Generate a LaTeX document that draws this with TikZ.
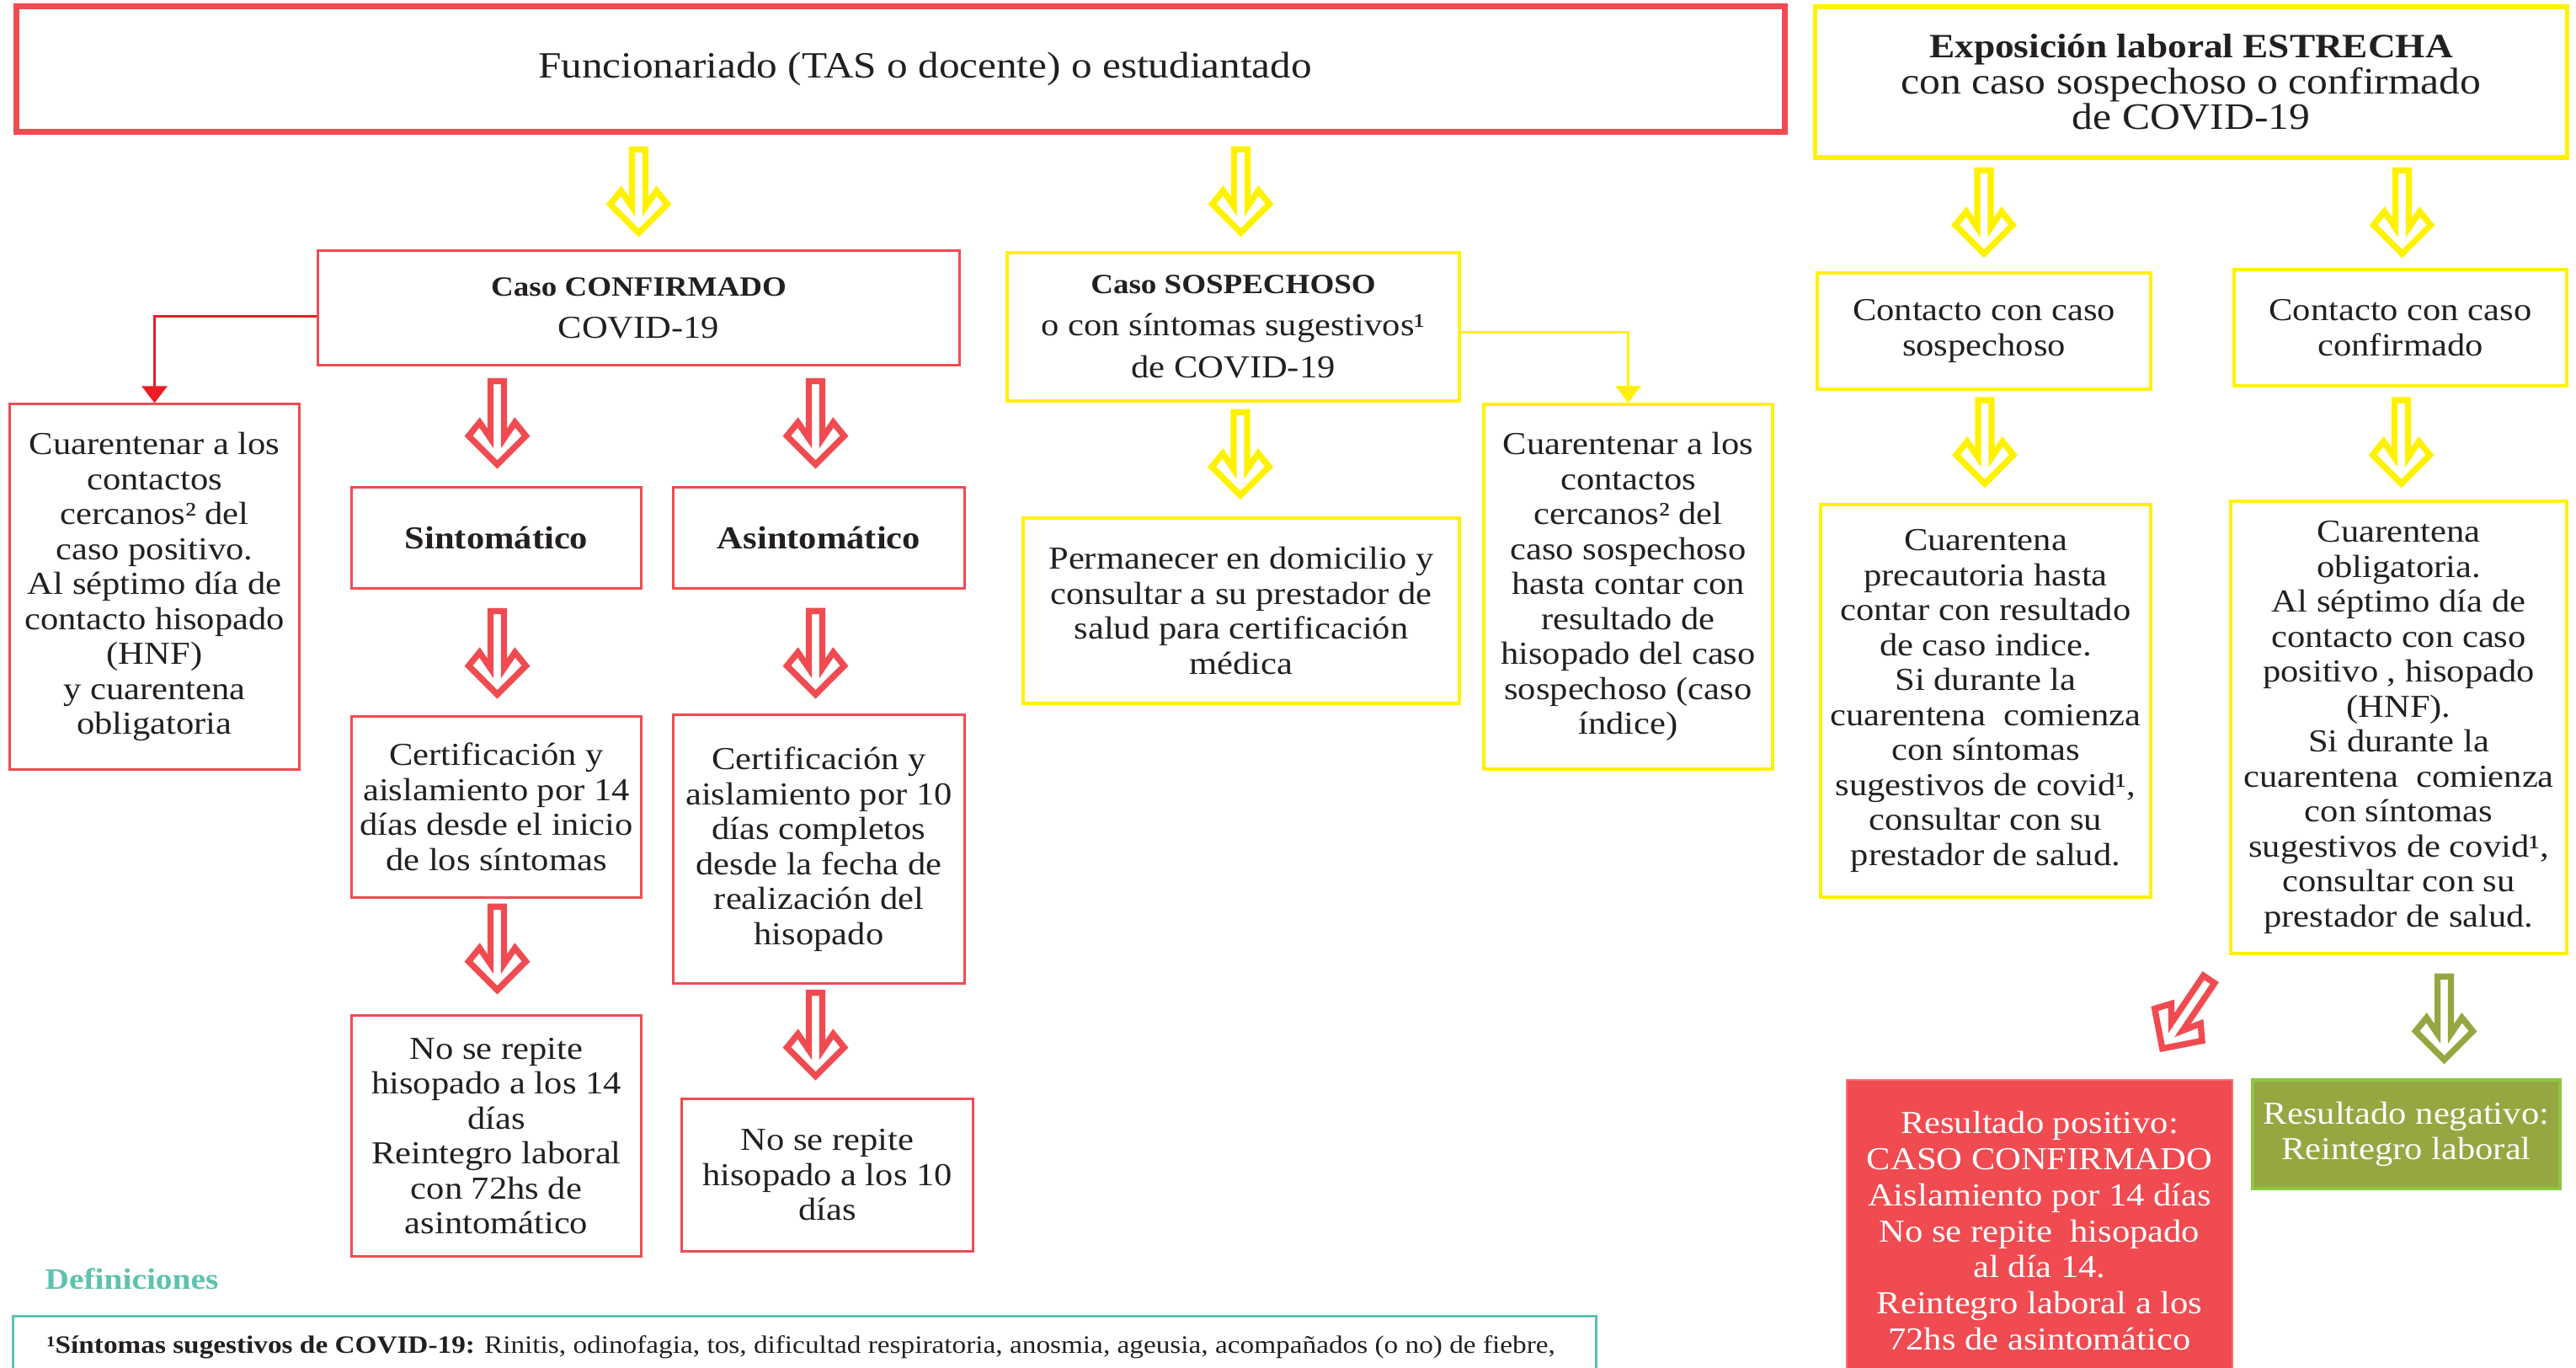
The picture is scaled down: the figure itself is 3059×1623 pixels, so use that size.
\documentclass[tikz,border=0pt]{standalone}
\usepackage{fontspec}
\setmainfont{Liberation Serif}[FakeStretch=1.12]
\usetikzlibrary{arrows.meta,calc}

\definecolor{redc}{HTML}{F04B51}
\definecolor{linkred}{HTML}{ED1C24}
\definecolor{ylw}{HTML}{FFF200}
\definecolor{olive}{HTML}{95A741}
\definecolor{lightgreen}{HTML}{8CC63F}
\definecolor{teal}{HTML}{5EC2AE}
\definecolor{ink}{HTML}{231F20}

\newcommand{\headline}[1]{{\fontsize{9.4}{14.2}\selectfont\bfseries #1}}

\begin{document}
\begin{tikzpicture}[x=0.01cm,y=-0.01cm]
            \tikzstyle{box}=[align=center,inner sep=0pt,text=ink,font=\fontsize{10.8}{11.8}\selectfont]
            \tikzstyle{red box}=[box,draw=redc,line width=0.85pt]
            \tikzstyle{yellow box}=[box,draw=ylw,line width=1pt]
            \tikzstyle{link}=[line width=0.85pt,-{Triangle[width=0.3cm,length=0.2cm]}]
            \tikzset{pics/harrow/.style={code={
              \draw[line width=2.1pt,fill=white,draw=#1] (-8,-104) -- (-8,-36) -- (-21,-55) -- (-34,-39) -- (0,-5)
                -- (34,-39) -- (21,-55) -- (8,-36) -- (8,-104) -- cycle;}}}

            \useasboundingbox (0,0) rectangle (3059,1623);
            \clip (0,0) rectangle (3059,1623);

            % top row
            \node[red box,line width=2pt,minimum width=20.99cm,minimum height=1.48cm,font=\fontsize{12.5}{12.5}\selectfont] (top) at (1069.5,82) {\hspace*{0.58cm}Funcionariado (TAS o docente) o estudiantado};
            \node[yellow box,line width=1.5pt,minimum width=8.92cm,minimum height=1.79cm,font=\fontsize{12.6}{12.1}\selectfont] (expo) at (2602,97.5) {{\fontsize{11.5}{12.1}\selectfont\bfseries Exposición laboral ESTRECHA}\\con caso sospechoso o confirmado\\de COVID-19};

            % left branch
            \node[red box,minimum width=7.61cm,minimum height=1.35cm,font=\fontsize{10.8}{14.2}\selectfont] (conf) at (758.5,365.5) {\headline{Caso CONFIRMADO}\\COVID-19};
            \node[red box,minimum width=3.43cm,minimum height=4.33cm] (cuarL) at (183.5,696.5) {Cuarentenar a los\\contactos\\cercanos² del\\caso positivo.\\Al séptimo día de\\contacto hisopado\\(HNF)\\y cuarentena\\obligatoria};
            \node[red box,minimum width=3.43cm,minimum height=1.19cm] (sinto) at (589.5,638.5) {\textbf{Sintomático}};
            \node[red box,minimum width=3.45cm,minimum height=1.19cm] (asinto) at (972.5,638.5) {\textbf{Asintomático}};
            \node[red box,minimum width=3.43cm,minimum height=2.14cm] (cert14) at (589.5,958) {Certificación y\\aislamiento por 14\\días desde el inicio\\de los síntomas};
            \node[red box,minimum width=3.45cm,minimum height=3.18cm] (cert10) at (972.5,1008) {Certificación y\\aislamiento por 10\\días completos\\desde la fecha de\\realización del\\hisopado};
            \node[red box,minimum width=3.43cm,minimum height=2.85cm] (norep14) at (589.5,1348.5) {No se repite\\hisopado a los 14\\días\\Reintegro laboral\\con 72hs de\\asintomático};
            \node[red box,minimum width=3.45cm,minimum height=1.80cm] (norep10) at (982.5,1395) {No se repite\\hisopado a los 10\\días};

            % suspected branch
            \node[yellow box,minimum width=5.37cm,minimum height=1.76cm,font=\fontsize{10.8}{14.2}\selectfont] (sosp) at (1464.5,388) {\headline{Caso SOSPECHOSO}\\o con síntomas sugestivos¹\\de COVID-19};
            \node[yellow box,minimum width=5.18cm,minimum height=2.20cm] (perm) at (1474,725) {Permanecer en domicilio y\\consultar a su prestador de\\salud para certificación\\médica};
            \node[yellow box,minimum width=3.43cm,minimum height=4.33cm] (cuarS) at (1933.5,696.5) {Cuarentenar a los\\contactos\\cercanos² del\\caso sospechoso\\hasta contar con\\resultado de\\hisopado del caso\\sospechoso (caso\\índice)};

            % close exposure branch
            \node[yellow box,minimum width=3.96cm,minimum height=1.38cm] (contS) at (2356,393) {Contacto con caso\\sospechoso};
            \node[yellow box,minimum width=3.95cm,minimum height=1.38cm] (contC) at (2850.5,389) {Contacto con caso\\confirmado};
            \node[yellow box,minimum width=3.92cm,minimum height=4.66cm] (precau) at (2358,832) {Cuarentena\\precautoria hasta\\contar con resultado\\de caso indice.\\Si durante la\\cuarentena\ \ comienza\\con síntomas\\sugestivos de covid¹,\\consultar con su\\prestador de salud.};
            \node[yellow box,minimum width=3.99cm,minimum height=5.37cm] (oblig) at (2848.5,863.5) {Cuarentena\\obligatoria.\\Al séptimo día de\\contacto con caso\\positivo , hisopado\\(HNF).\\Si durante la\\cuarentena\ \ comienza\\con síntomas\\sugestivos de covid¹,\\consultar con su\\prestador de salud.};
            \node[box,fill=redc,draw=redc!80!white,line width=0.6pt,text=white,minimum width=4.58cm,minimum height=3.58cm,font=\fontsize{10.8}{12.2}\selectfont] (pos) at (2422,1461) {Resultado positivo:\\CASO CONFIRMADO\\Aislamiento por 14 días\\No se repite\ \ hisopado\\al día 14.\\Reintegro laboral a los\\72hs de asintomático};
            \node[box,fill=olive,draw=lightgreen,line width=1pt,text=white,minimum width=3.65cm,minimum height=1.29cm] (neg) at (2857.5,1346.5) {Resultado negativo:\\Reintegro laboral};

            % definitions
            \node[anchor=base west,inner sep=0pt,text=teal,font=\fontsize{10}{12}\bfseries] (deftitle) at (53,1530) {Definiciones};
            \node[draw=teal,line width=0.9pt,anchor=north west,minimum width=18.79cm,minimum height=1.5cm] (defbox) at (14,1561) {};
            \node[anchor=base west,inner sep=0pt,text=ink,font=\fontsize{8.45}{10}\selectfont] (defone) at (55,1606) {\textbf{¹Síntomas sugestivos de COVID-19:} Rinitis, odinofagia, tos, dificultad respiratoria, anosmia, ageusia, acompañados (o no) de fiebre,};

            % thin connectors
            \draw[link,draw=linkred] ([yshift=-0.1cm]conf.west) -| (cuarL.north);
            \draw[link,draw=ylw] ([yshift=-0.06cm]sosp.east) -| (cuarS.north);

            % block arrows
            \pic at ($(conf.north)+(0,-15)$) {harrow=ylw};
            \pic at ($(sosp.north)+(9,-17)$) {harrow=ylw};
            \pic at ($(contS.north)+(0,-16)$) {harrow=ylw};
            \pic at ($(contC.north)+(2,-12)$) {harrow=ylw};
            \pic at ($(sinto.north)+(1,-21)$) {harrow=redc};
            \pic at ($(asinto.north)+(-4,-21)$) {harrow=redc};
            \pic at ($(cert14.north)+(1,-20)$) {harrow=redc};
            \pic at ($(cert10.north)+(-4,-18)$) {harrow=redc};
            \pic at ($(norep14.north)+(1,-24)$) {harrow=redc};
            \pic at ($(norep10.north)+(-14,-21)$) {harrow=redc};
            \pic at ($(perm.north)+(-1,-20)$) {harrow=ylw};
            \pic at ($(precau.north)+(-1,-18)$) {harrow=ylw};
            \pic at ($(oblig.north)+(3,-14)$) {harrow=ylw};
            \pic[rotate=-34] at ($(pos.north)+(143,-32)$) {harrow=redc};
            \pic at ($(neg.north)+(45,-17)$) {harrow=olive};
        \end{tikzpicture}
\end{document}
